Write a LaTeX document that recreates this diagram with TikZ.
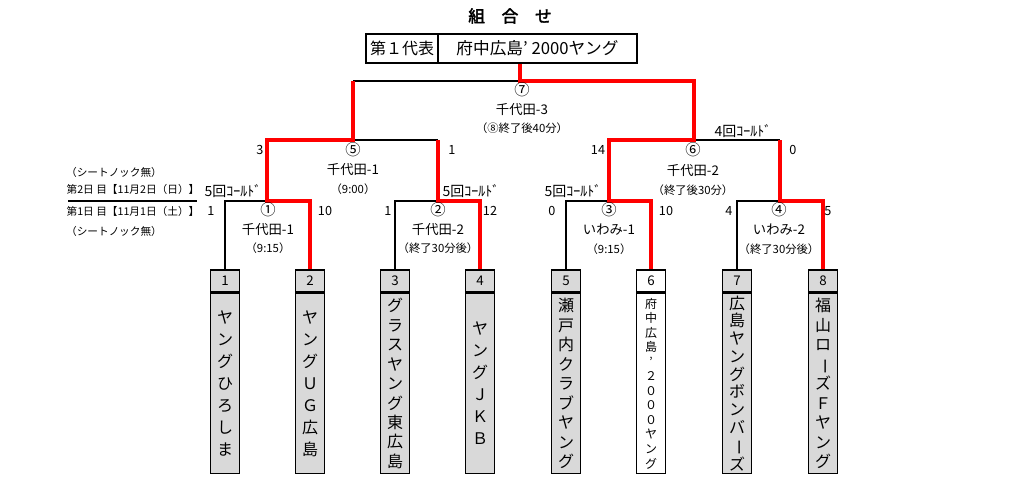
\documentclass[tikz,border=0pt]{standalone}
\usepackage{fontspec}
\setmainfont{Noto Sans CJK JP}[AutoFakeBold=2.5]
\newcommand{\tbar}{\rotatebox[origin=c]{-90}{ー}}
\tikzset{
  numcell/.style={draw,line width=1.1pt,fill=black!15,minimum width=21.75pt,minimum height=16.5pt,inner sep=0pt,font=\fontsize{10}{12}\selectfont},
  namecell/.style={draw,line width=1.1pt,fill=black!15,minimum width=21.75pt,minimum height=135pt,inner sep=0pt,anchor=north},
  teamname/.style={align=center,inner sep=0pt,font=\fontsize{12}{14.6}\selectfont},
  repcell/.style={draw,line width=1.1pt,minimum height=21.75pt,inner sep=0pt,font=\fontsize{12.5}{14}\selectfont},
  win/.style={red,line width=3pt,line join=miter},
  lose/.style={black,line width=1.1pt}
}
\begin{document}
\begin{tikzpicture}[x=0.75pt,y=-0.75pt]
\useasboundingbox (0,0) rectangle (1024,485);

\node (title) at (510,16) {\bfseries\fontsize{12.5}{14}\selectfont 組　合　せ};

% primo rappresentante
\node[repcell,minimum width=54pt,font=\fontsize{12}{14}\selectfont] (r1) at (402,48.5) {第１代表};
\node[repcell,minimum width=149.25pt] (r2) at (537.5,48.5) {府中広島’ 2000ヤング};

% squadre
\node[numcell] (t1) at (225,281) {1};
\node[namecell] (b1) at (t1.south) {};
\node[teamname,font=\fontsize{12}{16.5}\selectfont] (n1) at (b1) {ヤ\\ン\\グ\\ひ\\ろ\\し\\ま};

\node[numcell] (t2) at (310,281) {2};
\node[namecell] (b2) at (t2.south) {};
\node[teamname,font=\fontsize{12}{16.5}\selectfont] (n2) at (b2) {ヤ\\ン\\グ\\Ｕ\\Ｇ\\広\\島};

\node[numcell] (t3) at (395,281) {3};
\node[namecell] (b3) at (t3.south) {};
\node[teamname] (n3) at (b3) {グ\\ラ\\ス\\ヤ\\ン\\グ\\東\\広\\島};

\node[numcell] (t4) at (480,281) {4};
\node[namecell] (b4) at (t4.south) {};
\node[teamname,font=\fontsize{12}{16.5}\selectfont] (n4) at (b4) {ヤ\\ン\\グ\\Ｊ\\Ｋ\\Ｂ};

\node[numcell] (t5) at (566,281) {5};
\node[namecell] (b5) at (t5.south) {};
\node[teamname] (n5) at (b5) {瀬\\戸\\内\\ク\\ラ\\ブ\\ヤ\\ン\\グ};

\node[numcell,fill=white] (t6) at (651,281) {6};
\node[namecell,fill=white] (b6) at (t6.south) {};
\node[teamname,font=\fontsize{9}{10.9}\selectfont] (n6) at (b6) {府\\中\\広\\島\\’\\２\\０\\０\\０\\ヤ\\ン\\グ};

\node[numcell] (t7) at (737,281) {7};
\node[namecell] (b7) at (t7.south) {};
\node[teamname,font=\fontsize{12}{13.3}\selectfont] (n7) at (b7) {広\\島\\ヤ\\ン\\グ\\ボ\\ン\\バ\\\tbar\\ズ};

\node[numcell] (t8) at (823,281) {8};
\node[namecell] (b8) at (t8.south) {};
\node[teamname] (n8) at (b8) {福\\山\\ロ\\\tbar\\ズ\\Ｆ\\ヤ\\ン\\グ};

% incroci
\coordinate (m1) at (267,201);
\coordinate (m2) at (438,201);
\coordinate (m3) at (609,201);
\coordinate (m4) at (780,201);
\coordinate (m5) at (353,140);
\coordinate (m6) at (694,140);
\coordinate (m7) at (520,81);

\draw[lose] (t1.north) |- (m1);
\draw[lose] (t3.north) |- (m2);
\draw[lose] (t5.north) |- (m3);
\draw[lose] (t7.north) |- (m4);
\draw[lose] (m2 |- m5) -- (m5);
\draw[lose] (m4 |- m6) -- (m6);
\draw[lose] (m5 |- m7) -- (m7);

\draw[win] (t2.north) |- (m1) |- (m5) -- (m5 |- m7);
\draw[win] (t4.north) |- (m2) -- (m2 |- m5);
\draw[win] (t6.north) |- (m3) |- (m6) |- (m7) -- (m7 |- r2.south);
\draw[win] (t8.north) |- (m4) -- (m4 |- m6);

% partite
\begin{scope}[font=\fontsize{11.5}{13}\selectfont]
  \node (c7) at (522,90) {⑦};
  \node (c5) at (353,150) {⑤};
  \node (c6) at (693,150) {⑥};
  \node (c1) at (268,210) {①};
  \node (c2) at (438,210) {②};
  \node (c3) at (609,210) {③};
  \node (c4) at (779,210) {④};
\end{scope}

\begin{scope}[font=\fontsize{10}{12}\selectfont]
  \node (v7) at (522,110) {千代田-3};
  \node (v5) at (353,170) {千代田-1};
  \node (v6) at (693,171) {千代田-2};
  \node (v1) at (268,230) {千代田-1};
  \node (v2) at (438,230) {千代田-2};
  \node (v3) at (609,230) {いわみ-1};
  \node (v4) at (779,230) {いわみ-2};
\end{scope}

\begin{scope}[font=\fontsize{8.5}{10}\selectfont]
  \node (h7) at (522,128) {（⑧終了後40分）};
  \node (h5) at (353,189) {（9:00）};
  \node (h6) at (693,190) {（終了後30分）};
  \node (h1) at (268,248) {（9:15）};
  \node (h2) at (438,248) {（終了30分後）};
  \node (h3) at (609,249) {（9:15）};
  \node (h4) at (779,249) {（終了30分後）};
\end{scope}

% punteggi
\begin{scope}[font=\fontsize{9.5}{11}\selectfont]
  \node (s5a) at (260,150) {3};
  \node (s5b) at (452,150) {1};
  \node (s6a) at (598,150) {14};
  \node (s6b) at (793,150) {0};
  \node (s1a) at (211,211) {1};
  \node (s1b) at (325,211) {10};
  \node (s2a) at (388,211) {1};
  \node (s2b) at (490,211) {12};
  \node (s3a) at (552,211) {0};
  \node (s3b) at (666,211) {10};
  \node (s4a) at (729,211) {4};
  \node (s4b) at (828,211) {5};
\end{scope}

\begin{scope}[font=\fontsize{10.5}{12}\selectfont]
  \node (k1) at (233,191) {5回ｺｰﾙﾄﾞ};
  \node (k2) at (471,191) {5回ｺｰﾙﾄﾞ};
  \node (k3) at (573,191) {5回ｺｰﾙﾄﾞ};
  \node (k6) at (743,131) {4回ｺｰﾙﾄﾞ};
\end{scope}

% giornate
\begin{scope}[font=\fontsize{8}{10}\selectfont]
  \node (d0) at (114,172) {（シートノック無）};
  \node (d2) at (133,189) {第2日 目【11月2日（日）】};
  \node (d1) at (133,211) {第1日 目【11月1日（土）】};
  \node (d9) at (114,231) {（シートノック無）};
\end{scope}
\draw[line width=2.2pt] (68,201) -- (197,201);

\end{tikzpicture}
\end{document}
